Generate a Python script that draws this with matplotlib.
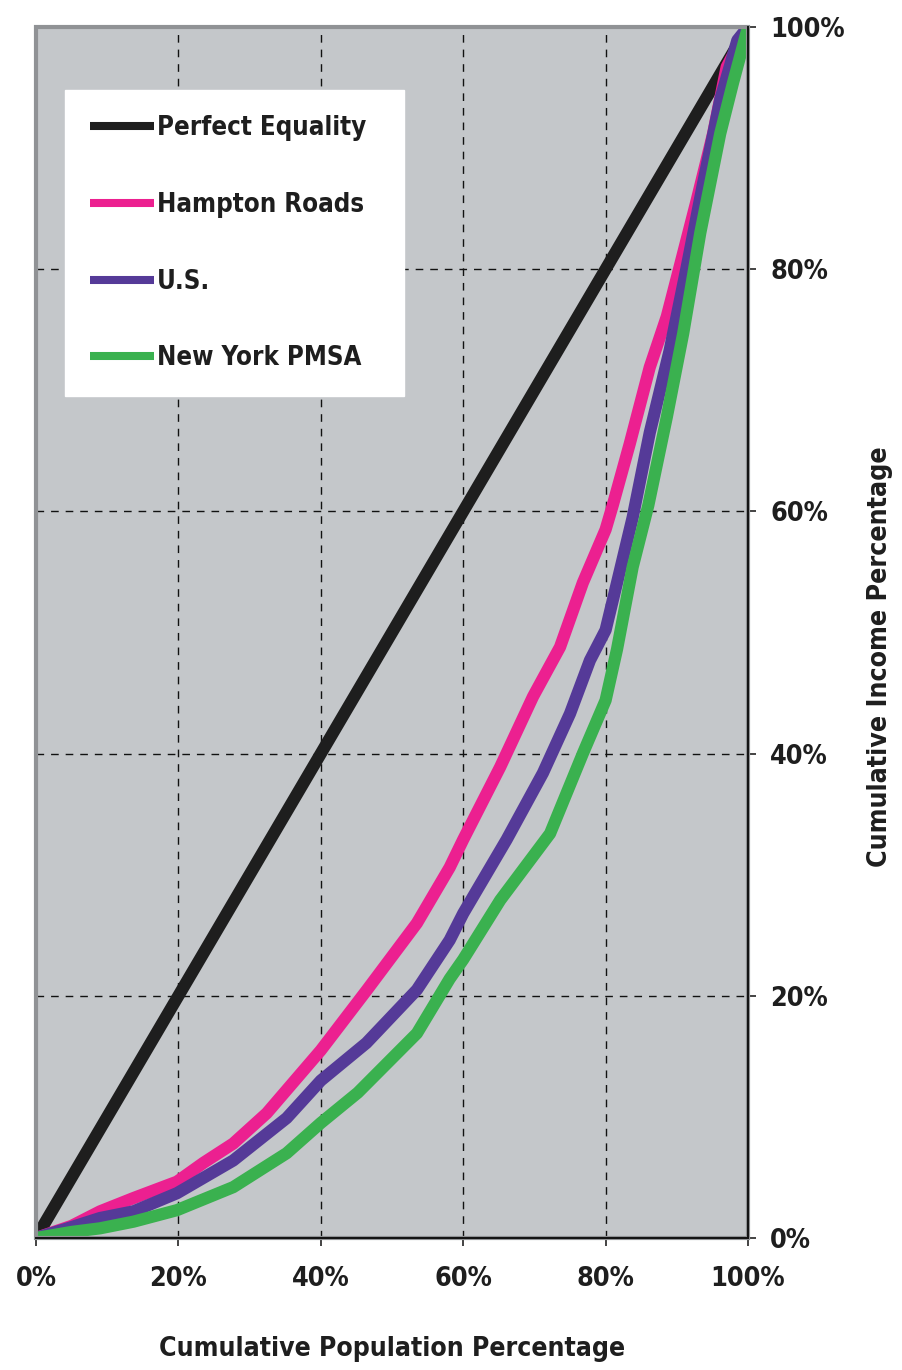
import matplotlib
matplotlib.use("Agg")
import matplotlib.pyplot as plt
import matplotlib.font_manager as fm
from matplotlib.patches import Rectangle
from matplotlib.ticker import FuncFormatter

# ---------------- data ----------------
equal_x = [0, 100]
equal_y = [0, 100]

hampton_x = [0, 5, 9, 13.7, 19.8, 23.5, 27.7, 32.4, 40, 46.5, 53.5, 58.1, 60, 65.2, 69.8,
             73.6, 76.8, 80, 81, 83.4, 86.2, 88.6, 90.4, 92.8, 95.1, 97, 100]
hampton_y = [0, 1.0, 2.2, 3.3, 4.65, 6.2, 7.8, 10.3, 15.5, 20.5, 26.0, 30.6, 32.9, 38.9, 44.7,
             48.8, 54.1, 58.5, 60.5, 65.6, 71.9, 76.1, 80.2, 85.7, 91.2, 96.7, 100]

us_x = [0, 5, 9, 13.7, 19.8, 27.7, 35.2, 40, 46.4, 53.5, 58.1, 60, 66.1, 71.2, 75, 77.8,
        80, 81.6, 83.8, 86.2, 89, 91.4, 93.7, 96.1, 98.5, 100]
us_y = [0, 0.9, 1.65, 2.2, 3.7, 6.4, 9.9, 13.0, 16.1, 20.5, 24.6, 26.8, 32.9, 38.4, 43.3, 47.7,
        50.2, 54.1, 59.5, 66.5, 73.3, 80.2, 87.1, 94.0, 98.9, 100]

ny_x = [0, 5, 9, 13.7, 19.8, 27.7, 35.2, 40, 45.2, 53.5, 58.1, 60, 65.2, 72.2, 76.8, 80,
        81.6, 83.8, 86, 88.6, 90.9, 93.3, 96.1, 97.9, 100]
ny_y = [0, 0.5, 0.8, 1.35, 2.3, 4.2, 7.0, 9.5, 12.0, 16.9, 21.4, 23.0, 27.9, 33.4, 40.0, 44.4,
        48.6, 55.4, 60.5, 67.8, 74.7, 83.0, 91.2, 95.4, 100]

labels = ["Perfect Equality", "Hampton Roads", "U.S.", "New York PMSA"]
colors = ["#1e1e1e", "#ec2090", "#553a98", "#3ab14f"]
ticks = [0, 20, 40, 60, 80, 100]

xlabel = "Cumulative Population Percentage"
ylabel = "Cumulative Income Percentage"

# ---------------- font choice (prefer a condensed bold face) ----------------
def pick_font():
    prefs = ["LiberationSansNarrow-Bold.", "DejaVuSansCondensed-Bold.", "LiberationSans-Bold.",
             "DejaVuSans-Bold."]
    paths = [f.fname for f in fm.fontManager.ttflist]
    for p in prefs:
        for path in paths:
            if path.split("/")[-1].startswith(p):
                return path
    return None

FONT_PATH = pick_font()

def fp(size):
    if FONT_PATH:
        return fm.FontProperties(fname=FONT_PATH, size=size)
    return fm.FontProperties(family="DejaVu Sans", weight="bold", size=size)

fig = plt.figure(figsize=(9.03, 13.70), dpi=100)
renderer = fig.canvas.get_renderer()

def text_width(s, size):
    t = fig.text(0, 0, s, fontproperties=fp(size))
    w = t.get_window_extent(renderer).width
    t.remove()
    return w

def size_for(s, target_px, cap=None):
    w = text_width(s, 20)
    sz = 20 * target_px / w
    if cap is not None:
        sz = min(sz, cap)
    return sz

leg_size = size_for("Perfect Equality", 210, cap=24)
tick_size = size_for("100%", 75, cap=25)
xl_size = size_for(xlabel, 468, cap=25)
yl_size = size_for(ylabel, 421, cap=25)

ax = fig.add_axes([36 / 903, 132 / 1370, 712 / 903, 1211 / 1370])
ax.set_facecolor("#c4c7ca")
ax.set_xlim(0, 100)
ax.set_ylim(0, 100)

series = [(equal_x, equal_y), (hampton_x, hampton_y), (us_x, us_y), (ny_x, ny_y)]
for (xs, ys), lab, col in zip(series, labels, colors):
    ax.plot(xs, ys, color=col, lw=8.8, label=lab, solid_capstyle="butt",
            solid_joinstyle="round", zorder=3)

# grid
ax.set_xticks(ticks)
ax.set_yticks(ticks)
ax.grid(True, color="#111111", lw=1.0, linestyle=(0, (5.5, 5)), zorder=1)

# frame: gray border + black right/bottom spines
for s in ["top", "left"]:
    ax.spines[s].set_visible(False)
ax.add_patch(Rectangle((0, 0), 1, 1, transform=ax.transAxes, fill=False,
                       ec="#909295", lw=3.0, zorder=4, clip_on=False))
for s in ["right", "bottom"]:
    ax.spines[s].set_color("#111111")
    ax.spines[s].set_linewidth(1.4)
    ax.spines[s].set_zorder(5)

ax.yaxis.tick_right()
ax.yaxis.set_label_position("right")
fmt = FuncFormatter(lambda v, p: f"{int(v)}%")
ax.xaxis.set_major_formatter(fmt)
ax.yaxis.set_major_formatter(fmt)
ax.tick_params(axis="x", direction="out", length=6, width=1.1, color="#111111", pad=14)
ax.tick_params(axis="y", direction="out", length=6, width=1.1, color="#111111", pad=10)
for t in ax.get_xticklabels() + ax.get_yticklabels():
    t.set_fontproperties(fp(tick_size))
    t.set_color("#1e1e1e")

ax.set_xlabel(xlabel, fontproperties=fp(xl_size), color="#1e1e1e", labelpad=32)
ax.set_ylabel(ylabel, fontproperties=fp(yl_size), color="#1e1e1e", labelpad=16)
ax.yaxis.label.set_y(0.48)

px = leg_size * 100 / 72.0
row_h = px * 1.17
leg = ax.legend(loc="upper left",
                bbox_to_anchor=(29 / 712, (1211 - 63 - 309) / 1211, 339 / 712, 309 / 1211),
                mode="expand",
                borderaxespad=0, frameon=True, fancybox=False, framealpha=1,
                facecolor="white", edgecolor="white", prop=fp(leg_size),
                handlelength=64 / px, handletextpad=3 / px,
                labelspacing=(81 - row_h) / px, borderpad=25 / px)
for h in leg.legend_handles:
    h.set_linewidth(5.8)
for t in leg.get_texts():
    t.set_color("#1e1e1e")
leg.set_zorder(6)

fig.savefig("out.png", dpi=100)
